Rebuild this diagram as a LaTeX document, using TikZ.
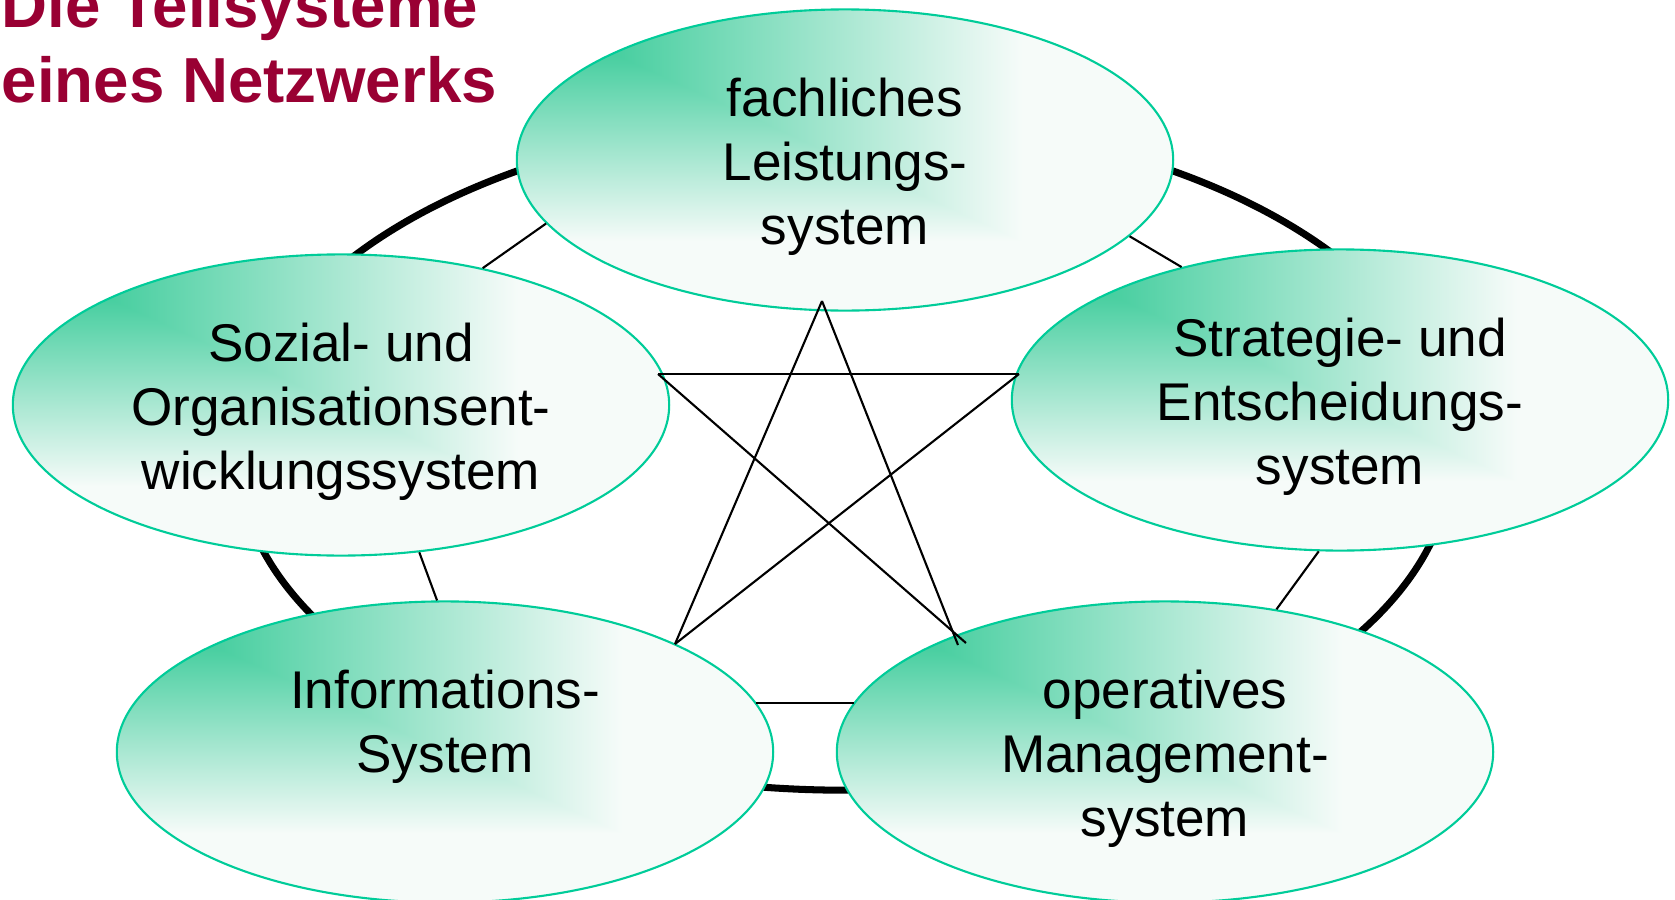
\documentclass[tikz,border=0pt]{standalone}
\usepackage{fontspec}
\setmainfont{Liberation Sans}
\usepackage{tikz}
\usepackage{xcolor}
\usetikzlibrary{shapes.geometric}

\definecolor{titlered}{RGB}{153,0,51}
\definecolor{sysedge}{RGB}{0,204,153}

\pgfdeclarefunctionalshading{cornerfade}{\pgfpoint{-50bp}{-50bp}}{\pgfpoint{50bp}{50bp}}{}{
  25 exch sub 50 div
  exch 25 add 50 div
  2 copy lt {exch} if pop
  0.13 sub 0.64 div
  dup 0 lt {pop 0} if
  dup 1 gt {pop 1} if
  dup 180 mul 66 add 255 div exch
  dup 46 mul 205 add 255 div exch
  92 mul 157 add 255 div
}

\begin{document}
\begin{tikzpicture}[x=0.01cm,y=-0.01cm,
sysnode/.style={ellipse,draw=sysedge,line width=0.6pt,shade,shading=cornerfade,
    minimum width=6.56cm,minimum height=3.01cm,inner sep=0pt,align=center,
    text height=51.4pt,text depth=3.2pt,
    font=\fontsize{15.1}{18.2}\selectfont},
link/.style={draw,line width=0.6pt}]
\useasboundingbox (0,0) rectangle (1675,900);

\draw[line width=2pt] (845,454) ellipse [x radius=6.07cm,y radius=3.36cm];

\node (title) [anchor=base west,inner sep=0pt,align=left,text=titlered,
    font=\fontsize{18.1}{21.3}\selectfont\bfseries] at (1,102) {Die Teilsysteme\\eines Netzwerks};

\node (fls) [sysnode] at (845,160) {fachliches\\Leistungs-\\system};
\node (soz) [sysnode] at (341,405) {Sozial- und\\Organisationsent-\\wicklungssystem};
\node (str) [sysnode] at (1340,400) {Strategie- und\\Entscheidungs-\\system};
\node (inf) [sysnode] at (445,752) {Informations-\\System\\\strut};
\node (opm) [sysnode] at (1165,752) {operatives\\Management-\\system};

% links between neighbours
\draw[link] (fls.192) -- (soz.44);
\draw[link] (fls.-15) -- (str.140);
\draw[link] (soz.-62) -- (inf.93);
\draw[link] (str.-98) -- (opm.52);
\draw[link] (inf.9) -- (opm.171);

% star
\coordinate (sA) at (822,301);
\coordinate (sL) at (658,374);
\coordinate (sR) at (1019,374);
\coordinate (sBL) at (675,644);
\coordinate (sBR) at (958,645);
\coordinate (sBRb) at (966,643);
\draw[link] (sA) -- (sBL);
\draw[link] (sA) -- (sBR);
\draw[link] (sL) -- (sR);
\draw[link] (sL) -- (sBRb);
\draw[link] (sR) -- (sBL);
\end{tikzpicture}
\end{document}
